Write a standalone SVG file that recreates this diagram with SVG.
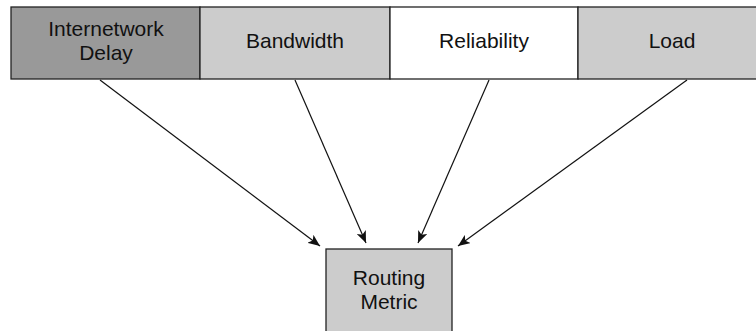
<svg xmlns="http://www.w3.org/2000/svg" width="756" height="331" viewBox="0 0 756 331">
<style>
.box{stroke:#222;stroke-width:1.3}
text{font-family:"Liberation Sans",Arial,sans-serif;font-size:21px;fill:#111;text-anchor:middle}
.c line{stroke:#111;stroke-width:1.2}
</style>
<defs>
<marker id="ah" viewBox="0 0 12 10" refX="12" refY="5" markerWidth="12" markerHeight="10" markerUnits="userSpaceOnUse" orient="auto">
<path d="M0,0 L12,5 L0,10 L3,5 Z" fill="#111"/>
</marker>
</defs>
<rect width="756" height="331" fill="#fff"/>
<g id="delay"><rect class="box" x="11" y="7" width="189" height="72" fill="#999"/><text x="106" y="36">Internetwork</text><text x="106" y="60">Delay</text></g>
<g id="bandwidth"><rect class="box" x="200" y="7" width="190" height="72" fill="#ccc"/><text x="295" y="48">Bandwidth</text></g>
<g id="reliability"><rect class="box" x="390" y="7" width="188" height="72" fill="#fff"/><text x="484" y="48">Reliability</text></g>
<g id="load"><rect class="box" x="578" y="7" width="190" height="72" fill="#ccc"/><text x="672" y="48">Load</text></g>
<g id="metric"><rect class="box" x="326" y="249" width="126" height="100" fill="#ccc"/><text x="389" y="285">Routing</text><text x="389" y="309">Metric</text></g>
<g class="c">
<line x1="100" y1="80" x2="320" y2="246" marker-end="url(#ah)"/>
<line x1="295" y1="80" x2="366" y2="243" marker-end="url(#ah)"/>
<line x1="489" y1="80" x2="418" y2="243" marker-end="url(#ah)"/>
<line x1="687" y1="80" x2="458" y2="246" marker-end="url(#ah)"/>
</g>
</svg>
